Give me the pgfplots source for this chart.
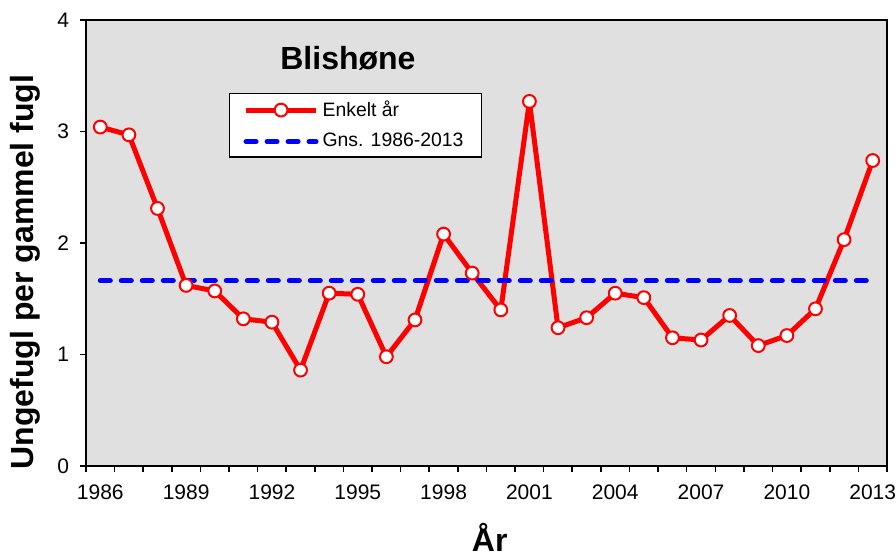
\documentclass[border=0pt]{standalone}
\usepackage{fontspec}
\setmainfont{Liberation Sans}
\usepackage{pgfplots}
\pgfplotsset{compat=1.18}
\definecolor{plotbg}{RGB}{224,224,224}
\begin{document}
\begin{tikzpicture}
\begin{axis}[name=ax,
  scale only axis, width=400.5pt, height=223pt,
  xmin=1985.5, xmax=2013.5, ymin=0, ymax=4,
  axis background/.style={fill=plotbg},
  axis line style={line width=0.8pt, black},
  xtick={1986,1989,...,2013},
  minor xtick={1985.5,1986.5,...,2013.5},
  ytick={0,1,2,3,4},
  tick align=outside, tick pos=left,
  major tick length=3pt, minor tick length=3pt,
  tick style={black, line width=0.8pt},
  major x tick style={draw=none},
  /pgf/number format/assume math mode=true,
  /pgf/number format/1000 sep={},
  ticklabel style={font=\fontsize{10.5}{12}\selectfont},
  xticklabel style={yshift=-3pt},
  yticklabel style={xshift=-2pt},
  xlabel={År},
  xlabel style={at={(axis description cs:0.504,-0.192)}, anchor=base, font=\fontsize{16}{18}\selectfont\bfseries},
  ylabel={Ungefugl per gammel fugl},
  ylabel style={at={(axis description cs:-0.076,0.435)}, anchor=center, font=\fontsize{16}{18}\selectfont\bfseries},
  legend style={at={(axis description cs:0.1785,0.836)}, anchor=north west, draw=black, line width=0.6pt, fill=white,
    font=\fontsize{9.7}{11}\selectfont, inner xsep=7pt, inner ysep=1.5pt, row sep=3pt,
    /tikz/every even column/.append style={column sep=3pt}},
  legend cell align=left,
  legend image code/.code={\draw[mark repeat=2,mark phase=2] plot coordinates {(0pt,0pt) (17.5pt,0pt) (35pt,0pt)};},
]
\addplot[red, line width=2.5pt, line join=round, mark=*, mark size=3.2pt, mark options={fill=white, draw=red, line width=1pt, solid}] coordinates {
(1986,3.04) (1987,2.97) (1988,2.31) (1989,1.62) (1990,1.57) (1991,1.32) (1992,1.29) (1993,0.86)
(1994,1.55) (1995,1.54) (1996,0.98) (1997,1.31) (1998,2.08) (1999,1.73) (2000,1.40) (2001,3.27)
(2002,1.24) (2003,1.33) (2004,1.55) (2005,1.51) (2006,1.15) (2007,1.13) (2008,1.35) (2009,1.08)
(2010,1.17) (2011,1.41) (2012,2.03) (2013,2.74)};
\addlegendentry{Enkelt år}
\addplot[blue, line width=2.5pt, line cap=round, dash pattern=on 5pt off 5.5pt] coordinates {(1986,1.662) (2013,1.662)};
\addlegendentry{Gns. 1986-2013}
\node[font=\fontsize{16}{18}\selectfont\bfseries] at (axis description cs:0.327,0.915) {Blishøne};
\end{axis}
\pgfresetboundingbox
\useasboundingbox ([shift={(-43pt,-45.5pt)}]ax.south west) rectangle ([shift={(4.5pt,10pt)}]ax.north east);
\end{tikzpicture}
\end{document}
